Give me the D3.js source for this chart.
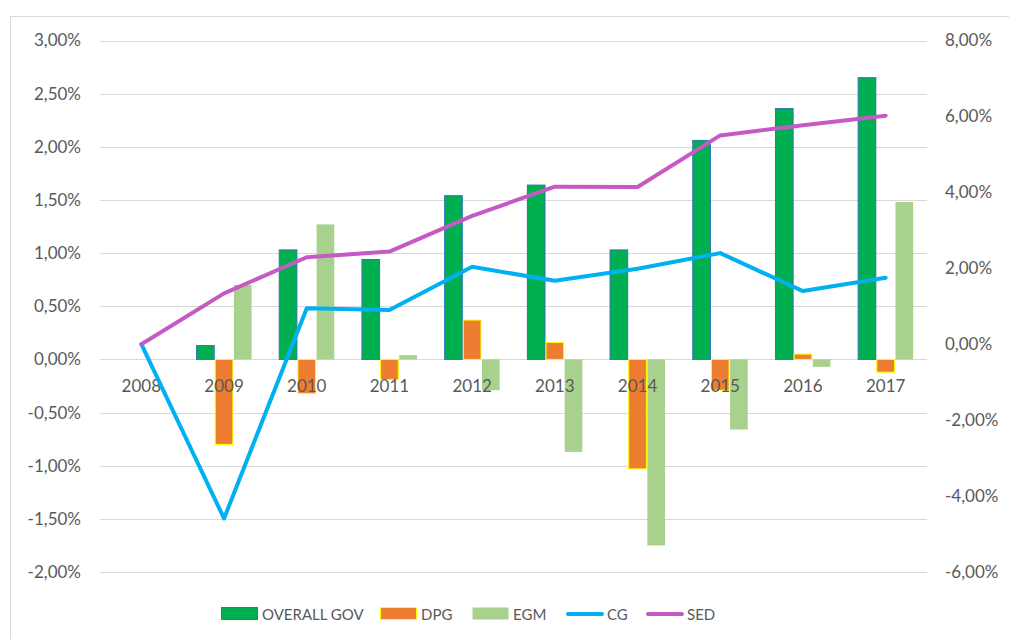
<!DOCTYPE html>
<html>
<head>
<meta charset="utf-8">
<script src="https://cdn.jsdelivr.net/npm/d3@7"></script>
<style>
  body { margin: 0; background: #fff; }
  svg text { font-family: Lato, "Open Sans", sans-serif; fill: #595959; }
</style>
</head>
<body>
<svg id="chart" width="1009" height="639"></svg>
<script>
// Chart data
var years = ["2008", "2009", "2010", "2011", "2012", "2013", "2014", "2015", "2016", "2017"];

// bar series (left axis)
var overallGov = [0, 0.0013, 0.0103, 0.0094, 0.0154, 0.0164, 0.0103, 0.0206, 0.0236, 0.0265];
var dpg = [0, -0.0080, -0.0032, -0.0019, 0.0037, 0.0016, -0.0103, -0.0029, 0.0005, -0.0012];
var egm = [0, 0.0070, 0.0127, 0.0004, -0.0029, -0.0087, -0.0175, -0.0066, -0.0007, 0.0148];

// line series (right axis)
var cg = [0, -0.0459, 0.0095, 0.0090, 0.0204, 0.0167, 0.0199, 0.0240, 0.0140, 0.0175];
var sed = [0, 0.0134, 0.0229, 0.0244, 0.0338, 0.0415, 0.0414, 0.0550, 0.0577, 0.0602];

var leftTicks = [-0.02, -0.015, -0.01, -0.005, 0, 0.005, 0.01, 0.015, 0.02, 0.025, 0.03];
var rightTicks = [-0.06, -0.04, -0.02, 0, 0.02, 0.04, 0.06, 0.08];

var barSeries = [
  {name: "OVERALL GOV", values: overallGov, fill: "#00B050", stroke: "#2E75B6"},
  {name: "DPG", values: dpg, fill: "#ED7D31", stroke: "#FFFF00"},
  {name: "EGM", values: egm, fill: "#A9D18E", stroke: "none"}
];
var lineSeries = [
  {name: "CG", values: cg, color: "#00B0F0"},
  {name: "SED", values: sed, color: "#C55AC5"}
];

var PLOT_LEFT = 100, PLOT_RIGHT = 927, PLOT_TOP = 40.5, PLOT_BOTTOM = 572;

var locale = d3.formatLocale({decimal: ",", thousands: ".", grouping: [3], currency: ["", "€"], minus: "-"});
var pct = locale.format(".2%");

var svg = d3.select("#chart");

// chart area border (runs off the picture right and bottom)
svg.append("rect")
  .attr("x", 10.5).attr("y", 16.5)
  .attr("width", 1100).attr("height", 700)
  .attr("fill", "none").attr("stroke", "#D9D9D9");

var xScale = d3.scaleBand()
  .domain(years)
  .range([PLOT_LEFT, PLOT_RIGHT]);

var innerScale = d3.scaleBand()
  .domain(barSeries.map(function (s) { return s.name; }))
  .range([0, 56]);

var groupOffset = (xScale.bandwidth() - 56) / 2;

var yLeft = d3.scaleLinear()
  .domain([-0.02, 0.03])
  .range([PLOT_BOTTOM, PLOT_TOP]);

var yRight = d3.scaleLinear()
  .domain([-0.06, 0.08])
  .range([PLOT_BOTTOM, PLOT_TOP]);

// gridlines
svg.append("g").selectAll("line")
  .data(leftTicks)
  .enter().append("line")
  .attr("x1", PLOT_LEFT).attr("x2", PLOT_RIGHT)
  .attr("y1", function (d) { return Math.round(yLeft(d)) + 0.5; })
  .attr("y2", function (d) { return Math.round(yLeft(d)) + 0.5; })
  .attr("stroke", "#D9D9D9").attr("stroke-width", 1);

// left axis
var leftAxis = svg.append("g")
  .attr("transform", "translate(81,0)")
  .call(d3.axisLeft(yLeft).tickValues(leftTicks).tickFormat(pct).tickSize(0).tickPadding(0));
leftAxis.select(".domain").remove();
leftAxis.selectAll("text").style("font-size", "17px").style("font-family", null).attr("fill", "#595959");

// right axis
var rightAxis = svg.append("g")
  .attr("transform", "translate(945,0)")
  .call(d3.axisRight(yRight).tickValues(rightTicks).tickFormat(pct).tickSize(0).tickPadding(0));
rightAxis.select(".domain").remove();
rightAxis.selectAll("text").style("font-size", "17px").style("font-family", null).attr("fill", "#595959");

// bars
var groups = svg.append("g").selectAll("g")
  .data(barSeries)
  .enter().append("g")
  .attr("fill", function (s) { return s.fill; })
  .attr("stroke", function (s) { return s.stroke; })
  .attr("stroke-width", 1);

groups.selectAll("rect")
  .data(function (s) { return s.values.map(function (v, i) { return {name: s.name, value: v, year: years[i]}; }); })
  .enter().append("rect")
  .filter(function (d) { return d.value !== 0; })
  .attr("x", function (d) { return xScale(d.year) + groupOffset + innerScale(d.name) + 0.5; })
  .attr("width", innerScale.bandwidth() - 1)
  .attr("y", function (d) { return Math.min(yLeft(d.value), yLeft(0)); })
  .attr("height", function (d) { return Math.abs(yLeft(d.value) - yLeft(0)); });

// category labels
svg.append("g").selectAll("text")
  .data(years)
  .enter().append("text")
  .attr("x", function (d) { return xScale(d) + xScale.bandwidth() / 2; })
  .attr("y", yLeft(0) + 26)
  .attr("text-anchor", "middle")
  .attr("dominant-baseline", "central")
  .style("font-size", "17px")
  .text(function (d) { return d; });

// lines
var line = d3.line()
  .x(function (d, i) { return xScale(years[i]) + xScale.bandwidth() / 2; })
  .y(function (d) { return yRight(d); });

svg.append("g").selectAll("path")
  .data(lineSeries)
  .enter().append("path")
  .attr("d", function (s) { return line(s.values); })
  .attr("fill", "none")
  .attr("stroke", function (s) { return s.color; })
  .attr("stroke-width", 4)
  .attr("stroke-linejoin", "round")
  .attr("stroke-linecap", "round");

// legend
var legendItems = [
  {name: "OVERALL GOV", x: 221, type: "bar", fill: "#00B050", stroke: "#2E75B6"},
  {name: "DPG", x: 380, type: "bar", fill: "#ED7D31", stroke: "#FFFF00"},
  {name: "EGM", x: 472, type: "bar", fill: "#A9D18E", stroke: "none"},
  {name: "CG", x: 566, type: "line", color: "#00B0F0"},
  {name: "SED", x: 646, type: "line", color: "#C55AC5"}
];
var legendY = 614;

var legend = svg.append("g").selectAll("g")
  .data(legendItems)
  .enter().append("g")
  .attr("transform", function (d) { return "translate(" + d.x + "," + legendY + ")"; });

legend.filter(function (d) { return d.type === "bar"; })
  .append("rect")
  .attr("x", 0.5).attr("y", -6.5)
  .attr("width", 36).attr("height", 12)
  .attr("fill", function (d) { return d.fill; })
  .attr("stroke", function (d) { return d.stroke; });

legend.filter(function (d) { return d.type === "line"; })
  .append("line")
  .attr("x1", 2).attr("x2", 36)
  .attr("stroke", function (d) { return d.color; })
  .attr("stroke-width", 4)
  .attr("stroke-linecap", "round");

legend.append("text")
  .attr("x", 41)
  .attr("dominant-baseline", "central")
  .style("font-size", "15px")
  .text(function (d) { return d.name; });
</script>
</body>
</html>
